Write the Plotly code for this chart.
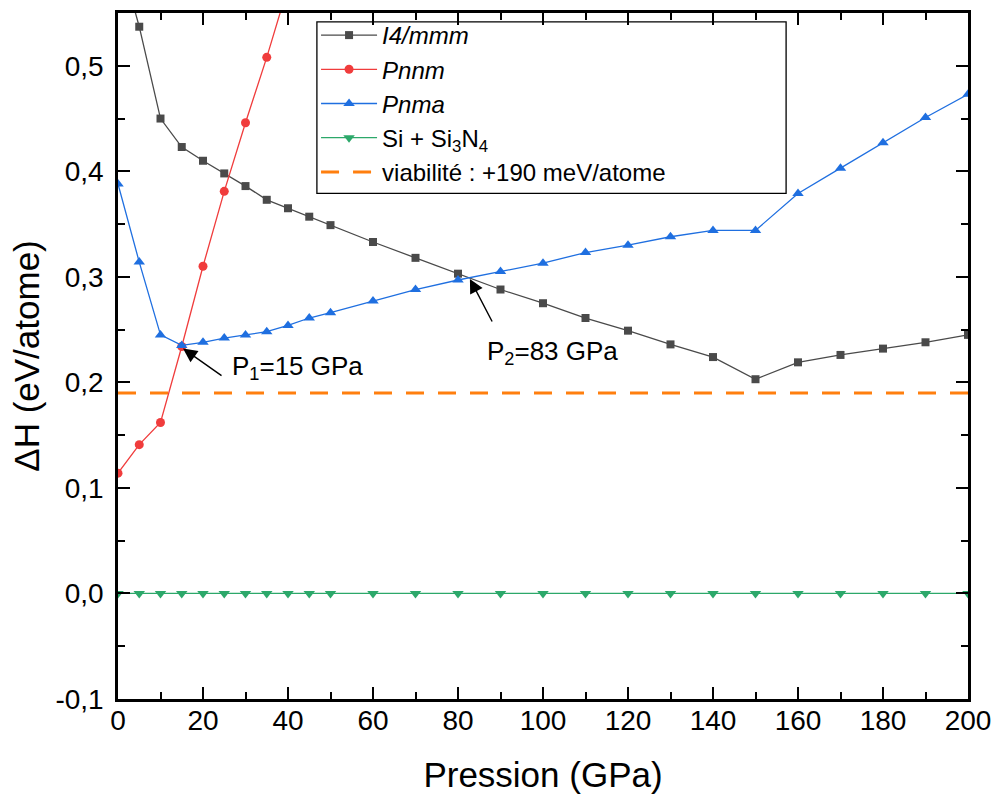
import plotly.graph_objects as go

# ---------------- data ----------------
pressure = [0, 5, 10, 15, 20, 25, 30, 35, 40, 45, 50, 60, 70, 80, 90, 100,
            110, 120, 130, 140, 150, 160, 170, 180, 190, 200]
i4mmm = [0.610, 0.537, 0.450, 0.423, 0.410, 0.398, 0.386, 0.373, 0.365, 0.357,
         0.349, 0.333, 0.318, 0.303, 0.288, 0.275, 0.261, 0.249, 0.236, 0.224,
         0.203, 0.219, 0.226, 0.232, 0.238, 0.245]
pnma = [0.388, 0.314, 0.245, 0.235, 0.238, 0.242, 0.245, 0.248, 0.254, 0.261,
        0.266, 0.277, 0.288, 0.297, 0.305, 0.313, 0.323, 0.330, 0.338, 0.344,
        0.344, 0.379, 0.403, 0.427, 0.451, 0.473]
pnnm_pressure = [0, 5, 10, 15, 20, 25, 30, 35, 40]
pnnm = [0.114, 0.141, 0.162, 0.234, 0.310, 0.381, 0.446, 0.508, 0.575]
si_si3n4 = [0.0] * len(pressure)
viability_x = [0, 200]
viability_y = [0.19, 0.19]

x_ticks = [0, 20, 40, 60, 80, 100, 120, 140, 160, 180, 200]
y_ticks = [-0.1, 0.0, 0.1, 0.2, 0.3, 0.4, 0.5]
y_ticktext = ["-0,1", "0,0", "0,1", "0,2", "0,3", "0,4", "0,5"]

names = ["<i>I4/mmm</i>", "<i>Pnnm</i>", "<i>Pnma</i>",
         "Si + Si<sub>3</sub>N<sub>4</sub>", "viabilité : +190 meV/atome"]

FONT = "Liberation Sans, Arial, sans-serif"

fig = go.Figure()
fig.add_trace(go.Scatter(x=pressure, y=i4mmm, name=names[0], mode="lines+markers",
                         line=dict(color="#4a4a4a", width=1.3),
                         marker=dict(symbol="square", size=8, color="#4a4a4a")))
fig.add_trace(go.Scatter(x=pnnm_pressure, y=pnnm, name=names[1], mode="lines+markers",
                         line=dict(color="#f03c3c", width=1.3),
                         marker=dict(symbol="circle", size=9, color="#f03c3c")))
fig.add_trace(go.Scatter(x=pressure, y=pnma, name=names[2], mode="lines+markers",
                         line=dict(color="#1f6fe0", width=1.3),
                         marker=dict(symbol="triangle-up", size=10, color="#1f6fe0")))
fig.add_trace(go.Scatter(x=pressure, y=si_si3n4, name=names[3], mode="lines+markers",
                         line=dict(color="#2ca86a", width=1.3),
                         marker=dict(symbol="triangle-down", size=10, color="#2ca86a")))
fig.add_trace(go.Scatter(x=viability_x, y=viability_y, name=names[4], mode="lines",
                         line=dict(color="#ff7f0e", width=3, dash="18px,14px")))

axis_common = dict(showline=True, linecolor="black", linewidth=2.5, mirror="allticks",
                   ticks="inside", ticklen=12, tickwidth=2, tickcolor="black",
                   showgrid=False, zeroline=False, automargin=False,
                   tickfont=dict(family=FONT, size=28, color="black"))

fig.update_xaxes(range=[0, 200], tickvals=x_ticks, ticklabelstandoff=-5,
                 ticklabeloverflow="allow",
                 minor=dict(ticks="inside", ticklen=7, tickwidth=2, dtick=10, tick0=0,
                            tickcolor="black", showgrid=False),
                 title=dict(text="Pression (GPa)", font=dict(family=FONT, size=35, color="black"),
                            standoff=41),
                 **axis_common)
fig.update_yaxes(range=[-0.1, 0.55], tickvals=y_ticks, ticktext=y_ticktext,
                 ticklabelstandoff=6,
                 minor=dict(ticks="inside", ticklen=7, tickwidth=2, dtick=0.05, tick0=0,
                            tickcolor="black", showgrid=False),
                 title=dict(text="ΔH (eV/atome)", font=dict(family=FONT, size=35, color="black"),
                            standoff=6),
                 **axis_common)

# legend frame
fig.add_shape(type="rect", xref="paper", yref="paper", x0=0.234, x1=0.786,
              y0=0.737, y1=0.987, line=dict(color="black", width=1.3),
              fillcolor="white", layer="below")

# arrows
fig.add_annotation(x=15.3, y=0.232, ax=40, ay=28, text="", showarrow=True,
                   arrowhead=2, arrowsize=2, arrowwidth=1.4, arrowcolor="black")
fig.add_annotation(x=82.8, y=0.298, ax=23, ay=44, text="", showarrow=True,
                   arrowhead=2, arrowsize=2, arrowwidth=1.4, arrowcolor="black")
fig.add_annotation(x=26.4, y=0.214, text="P<sub>1</sub>=15 GPa", showarrow=False,
                   xanchor="left", yanchor="middle",
                   font=dict(family=FONT, size=26, color="black"))
fig.add_annotation(x=86.4, y=0.228, text="P<sub>2</sub>=83 GPa", showarrow=False,
                   xanchor="left", yanchor="middle",
                   font=dict(family=FONT, size=26, color="black"))

fig.update_layout(
    width=994, height=794,
    margin=dict(l=118, r=26, t=13, b=95),
    paper_bgcolor="white", plot_bgcolor="white",
    font=dict(family=FONT, color="black"),
    showlegend=True,
    legend=dict(x=0.233, y=1.0, xanchor="left", yanchor="top",
                bgcolor="rgba(0,0,0,0)", borderwidth=0,
                font=dict(family=FONT, size=24, color="black"),
                itemwidth=56, tracegroupgap=0),
)

fig.write_html("out.html",
               config={"displayModeBar": False},
               post_script="document.body.style.margin='0px';"
                           "document.body.style.overflow='hidden';")
